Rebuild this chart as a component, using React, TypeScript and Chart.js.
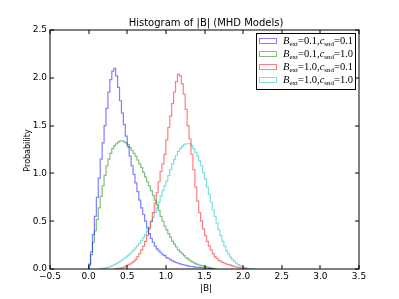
import React, { useEffect, useRef } from 'react';
import { Chart, registerables } from 'chart.js';

Chart.register(...registerables);

// ---- data ----
const binWidth = 0.025;

const blueStart = 0.0;
const blueValues = [
  0.05, 0.18, 0.36, 0.55, 0.75, 0.95, 1.15, 1.32, 1.5, 1.68, 1.85, 1.98, 2.07, 2.1, 2.02, 1.9,
  1.76, 1.63, 1.51, 1.39, 1.28, 1.18, 1.08, 0.99, 0.9, 0.81, 0.72, 0.64, 0.57, 0.5, 0.43, 0.37,
  0.32, 0.28, 0.24, 0.21, 0.19, 0.17, 0.15, 0.14, 0.12, 0.11, 0.095, 0.085, 0.075, 0.068, 0.06,
  0.053, 0.047, 0.042, 0.037, 0.033, 0.029, 0.026, 0.023, 0.02, 0.018, 0.016, 0.014, 0.012, 0.01,
  0.008, 0.006, 0.004,
];

const greenStart = 0.0;
const greenValues = [
  0.04, 0.15, 0.28, 0.4, 0.52, 0.64, 0.76, 0.87, 0.98, 1.08, 1.15, 1.21, 1.26, 1.29, 1.31, 1.33,
  1.34, 1.34, 1.33, 1.32, 1.3, 1.27, 1.24, 1.21, 1.18, 1.14, 1.1, 1.06, 1.01, 0.96, 0.91, 0.87,
  0.82, 0.77, 0.72, 0.67, 0.61, 0.55, 0.5, 0.45, 0.41, 0.37, 0.33, 0.29, 0.26, 0.23, 0.2, 0.18,
  0.16, 0.14, 0.12, 0.105, 0.09, 0.078, 0.067, 0.057, 0.048, 0.041, 0.035, 0.03, 0.025, 0.02,
  0.015, 0.01, 0.007, 0.004,
];

const redStart = 0.35;
const redValues = [
  0.003, 0.006, 0.01, 0.015, 0.02, 0.03, 0.04, 0.05, 0.065, 0.08, 0.1, 0.13, 0.16, 0.2, 0.24,
  0.29, 0.35, 0.42, 0.5, 0.59, 0.69, 0.8, 0.91, 1.02, 1.1, 1.2, 1.35, 1.48, 1.6, 1.73, 1.85, 1.96,
  2.04, 2.02, 1.94, 1.83, 1.67, 1.5, 1.36, 1.2, 1.04, 0.86, 0.71, 0.59, 0.5, 0.42, 0.35, 0.29,
  0.24, 0.2, 0.16, 0.13, 0.11, 0.09, 0.08, 0.07, 0.06, 0.05, 0.045, 0.04, 0.033, 0.027, 0.021,
  0.016, 0.012, 0.008, 0.005, 0.003,
];

const cyanStart = 0.15;
const cyanValues = [
  0.003, 0.006, 0.01, 0.015, 0.02, 0.027, 0.035, 0.045, 0.056, 0.068, 0.082, 0.097, 0.11, 0.125,
  0.14, 0.16, 0.18, 0.2, 0.22, 0.245, 0.27, 0.3, 0.33, 0.36, 0.4, 0.44, 0.49, 0.54, 0.59, 0.64,
  0.7, 0.76, 0.82, 0.87, 0.92, 0.98, 1.04, 1.1, 1.15, 1.19, 1.23, 1.26, 1.28, 1.3, 1.31, 1.31,
  1.31, 1.29, 1.26, 1.22, 1.18, 1.13, 1.08, 1.01, 0.94, 0.86, 0.78, 0.7, 0.62, 0.55, 0.48, 0.41,
  0.35, 0.29, 0.24, 0.19, 0.155, 0.125, 0.1, 0.08, 0.06, 0.045, 0.035, 0.025, 0.018, 0.012,
  0.008, 0.005, 0.003, 0.002,
];

const bExtValues = ['0.1', '0.1', '1.0', '1.0'];
const cSndValues = ['0.1', '1.0', '0.1', '1.0'];
const seriesColors = [
  'rgba(0,0,255,0.5)',
  'rgba(0,128,0,0.5)',
  'rgba(255,0,0,0.5)',
  'rgba(0,191,191,0.5)',
];

const titleText = 'Histogram of |B| (MHD Models)';
const xAxisLabel = '|B|';
const yAxisLabel = 'Probability';
const xMin = -0.5;
const xMax = 3.5;
const yMin = 0;
const yMax = 2.5;
const tickStep = 0.5;

function outline(start: number, values: number[]) {
  const pts: { x: number; y: number }[] = [{ x: start, y: 0 }];
  values.forEach((v, i) => {
    const l = start + i * binWidth;
    pts.push({ x: l, y: v });
  });
  pts.push({ x: start + values.length * binWidth, y: 0 });
  return pts;
}

const SANS = '"DejaVu Sans", sans-serif';
const SERIF = '"Liberation Serif", "DejaVu Serif", serif';

const decorPlugin = {
  id: 'decor',
  afterDraw(chart: any) {
    const ctx: CanvasRenderingContext2D = chart.ctx;
    const { left, right, top, bottom } = chart.chartArea;
    const xs = chart.scales.x;
    const ys = chart.scales.y;
    ctx.save();
    ctx.strokeStyle = '#000';
    ctx.lineWidth = 1;
    ctx.beginPath();
    xs.ticks.forEach((t: any) => {
      const px = Math.round(xs.getPixelForValue(t.value));
      ctx.moveTo(px, bottom);
      ctx.lineTo(px, bottom - 4);
      ctx.moveTo(px, top);
      ctx.lineTo(px, top + 4);
    });
    ys.ticks.forEach((t: any) => {
      const py = Math.round(ys.getPixelForValue(t.value));
      ctx.moveTo(left, py);
      ctx.lineTo(left + 4, py);
      ctx.moveTo(right, py);
      ctx.lineTo(right - 4, py);
    });
    ctx.stroke();
    ctx.strokeRect(left, top, right - left, bottom - top);

    ctx.fillStyle = '#000';
    ctx.font = `10px ${SANS}`;
    ctx.textAlign = 'center';
    ctx.textBaseline = 'alphabetic';
    ctx.fillText(titleText, (left + right) / 2 + 1.5, 25.5);

    ctx.font = `9px ${SANS}`;
    ctx.fillText(xAxisLabel, (left + right) / 2 + 1.5, 290.5);

    ctx.save();
    ctx.translate(30, (top + bottom) / 2 + 1);
    ctx.rotate(-Math.PI / 2);
    ctx.font = `8px ${SANS}`;
    ctx.fillText(yAxisLabel, 0, 0);
    ctx.restore();

    const bx = 256, by = 33, bw = 99, bh = 56;
    ctx.fillStyle = '#fff';
    ctx.fillRect(bx, by, bw, bh);
    ctx.strokeStyle = '#000';
    ctx.lineWidth = 1;
    ctx.strokeRect(bx + 0.5, by + 0.5, bw, bh);
    const rowY = [40, 53.3, 66.5, 79.5];
    seriesColors.forEach((c, i) => {
      const ry = rowY[i];
      ctx.strokeStyle = c;
      ctx.lineWidth = 1;
      ctx.strokeRect(259.5, Math.round(ry - 2.5) + 0.5, 17, 5);
      const base = ry + 3.5;
      let x = 283;
      const big = 10.5;
      const small = 7;
      const parts: [string, string, number, number][] = [
        ['B', 'italic', big, 0],
        ['ext', 'normal', small, 2],
        ['=' + bExtValues[i] + ',', 'normal', big, 0],
        ['c', 'italic', big, 0],
        ['snd', 'normal', small, 2],
        ['=' + cSndValues[i], 'normal', big, 0],
      ];
      ctx.fillStyle = '#000';
      ctx.textAlign = 'left';
      parts.forEach(([t, style, size, dy]) => {
        ctx.font = `${style} ${size}px ${SERIF}`;
        ctx.fillText(t, x, base + dy);
        x += ctx.measureText(t).width;
      });
    });
    ctx.restore();
  },
};

export default function App() {
  const ref = useRef<HTMLCanvasElement>(null);
  useEffect(() => {
    document.body.style.margin = '0';
    const canvas = ref.current!;
    Chart.defaults.font.family = SANS;
    const datasets = [
      [blueStart, blueValues],
      [greenStart, greenValues],
      [redStart, redValues],
      [cyanStart, cyanValues],
    ].map(([s, v]: any, i) => ({
      label: `B_ext=${bExtValues[i]}, c_snd=${cSndValues[i]}`,
      data: outline(s, v),
      borderColor: seriesColors[i],
      borderWidth: 1.2,
      pointRadius: 0,
      fill: false,
      stepped: 'before' as const,
    }));
    const chart = new Chart(canvas, {
      type: 'line',
      data: { datasets },
      options: {
        animation: false,
        responsive: false,
        devicePixelRatio: 1,
        layout: { padding: { top: 30, right: 40, bottom: 0, left: 0 } },
        plugins: { legend: { display: false }, tooltip: { enabled: false }, title: { display: false } },
        scales: {
          x: {
            type: 'linear',
            min: xMin,
            max: xMax,
            grid: { display: false, drawTicks: false },
            border: { display: false },
            ticks: {
              stepSize: tickStep,
              autoSkip: false,
              maxRotation: 0,
              padding: 2,
              color: '#000',
              font: { size: 9, family: SANS },
              callback: (v: any) => (Number(v) < 0 ? '\u2212' + Math.abs(Number(v)).toFixed(1) : Number(v).toFixed(1)),
            },
            afterFit: (s: any) => { s.height = 30; },
          },
          y: {
            type: 'linear',
            min: yMin,
            max: yMax,
            grid: { display: false, drawTicks: false },
            border: { display: false },
            ticks: {
              stepSize: tickStep,
              padding: 3,
              color: '#000',
              font: { size: 9, family: SANS },
              callback: (v: any) => Number(v).toFixed(1),
            },
            afterFit: (s: any) => { s.width = 50; },
          },
        },
      },
      plugins: [decorPlugin],
    });
    return () => chart.destroy();
  }, []);
  return <canvas ref={ref} width={399} height={299} style={{ display: 'block' }} />;
}
